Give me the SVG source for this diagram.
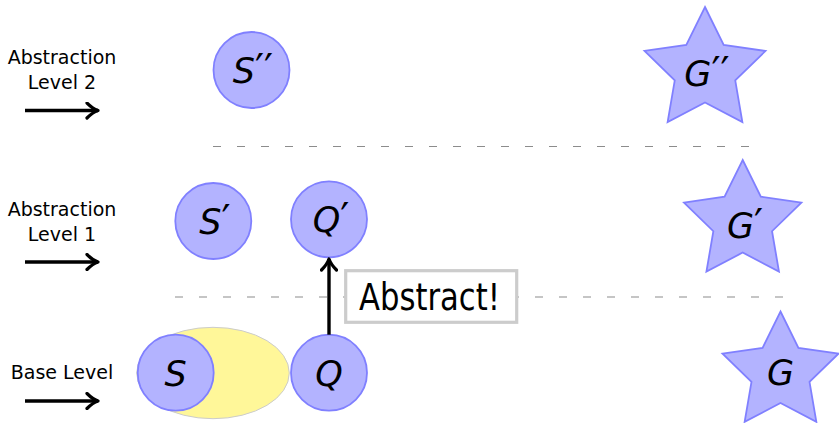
<svg xmlns="http://www.w3.org/2000/svg" width="839" height="423" viewBox="0 0 839 423">
<style>
.node{fill:#b3b3ff;stroke:#8080ff;stroke-width:1.8}
.math{font-family:"DejaVu Sans",sans-serif;font-style:italic;font-size:35px;fill:#000;text-anchor:middle}
.pr{font-style:normal;font-size:40px}
.lbl{font-family:"DejaVu Sans",sans-serif;font-size:19px;fill:#000;text-anchor:middle}
.dash{stroke:#8c8c8c;stroke-width:1.2;stroke-dasharray:8 16;fill:none}
.arr{stroke:#000;stroke-width:3.4;fill:none;marker-end:url(#head)}
</style>
<defs>
<marker id="head" viewBox="-13 -9 15 18" markerWidth="15" markerHeight="18" refX="0" refY="0" markerUnits="userSpaceOnUse" orient="auto">
<path d="M-11,-7.5 C-7,-3.5 -3,-1 0,0 C-3,1 -7,3.5 -11,7.5" fill="none" stroke="#000" stroke-width="3.2" stroke-linecap="round" stroke-linejoin="round"/>
</marker>
</defs>
<rect width="839" height="423" fill="#fff"/>
<g id="dashed-lines">
<line class="dash" x1="213" y1="146.5" x2="749" y2="146.5"/>
<line class="dash" x1="175" y1="297" x2="783" y2="297"/>
</g>
<g id="labels">
<text class="lbl" x="62" y="64">Abstraction</text>
<text class="lbl" x="62" y="89">Level 2</text>
<text class="lbl" x="62" y="216">Abstraction</text>
<text class="lbl" x="62" y="241">Level 1</text>
<text class="lbl" x="62" y="379">Base Level</text>
</g>
<g id="level-arrows">
<line class="arr" x1="25" y1="110.5" x2="98" y2="110.5"/>
<line class="arr" x1="25" y1="262" x2="98" y2="262"/>
<line class="arr" x1="25" y1="401" x2="98" y2="401"/>
</g>
<g id="region">
<ellipse cx="213" cy="373" rx="76.3" ry="45.7" fill="#fff799" stroke="#cccccc" stroke-width="1"/>
</g>
<g id="node-S2">
<circle class="node" cx="251.5" cy="70" r="38"/>
<text class="math" x="253" y="83">S<tspan class="pr">′′</tspan></text>
</g>
<g id="node-G2">
<polygon class="node" points="705,7 723.69,44.87 765.49,50.95 735.24,80.43 742.38,122.05 705,102.4 667.62,122.05 674.76,80.43 644.51,50.95 686.31,44.87"/>
<text class="math" x="707" y="86">G<tspan class="pr">′′</tspan></text>
</g>
<g id="node-S1">
<circle class="node" cx="213.3" cy="221" r="38"/>
<text class="math" x="215" y="234">S<tspan class="pr">′</tspan></text>
</g>
<g id="node-Q1">
<circle class="node" cx="329" cy="219.3" r="38"/>
<text class="math" x="331" y="232">Q<tspan class="pr">′</tspan></text>
</g>
<g id="node-G1">
<polygon class="node" points="742.7,160 760.83,196.74 801.38,202.63 772.04,231.23 778.97,271.62 742.7,252.55 706.43,271.62 713.36,231.23 684.02,202.63 724.57,196.74"/>
<text class="math" x="745" y="238">G<tspan class="pr">′</tspan></text>
</g>
<g id="node-S">
<circle class="node" cx="175.7" cy="372.7" r="38"/>
<text class="math" x="175.7" y="385.5">S</text>
</g>
<g id="node-Q">
<circle class="node" cx="329" cy="372.7" r="38"/>
<text class="math" x="329" y="385.5">Q</text>
</g>
<g id="node-G">
<polygon class="node" points="780.5,311.5 798.43,347.82 838.52,353.65 809.51,381.92 816.36,421.85 780.5,403 744.64,421.85 751.49,381.92 722.48,353.65 762.57,347.82"/>
<text class="math" x="780.5" y="385">G</text>
</g>
<g id="connectors">
<line class="arr" x1="329" y1="334.7" x2="329" y2="259"/>
</g>
<g id="abstract-label">
<rect x="345.7" y="270.7" width="171" height="51.6" fill="#fff" stroke="#cccccc" stroke-width="3.2"/>
<text x="429.5" y="310" font-family="DejaVu Sans Condensed, DejaVu Sans, sans-serif" font-stretch="condensed" font-size="37" text-anchor="middle" textLength="141" lengthAdjust="spacingAndGlyphs">Abstract!</text>
</g>
</svg>
